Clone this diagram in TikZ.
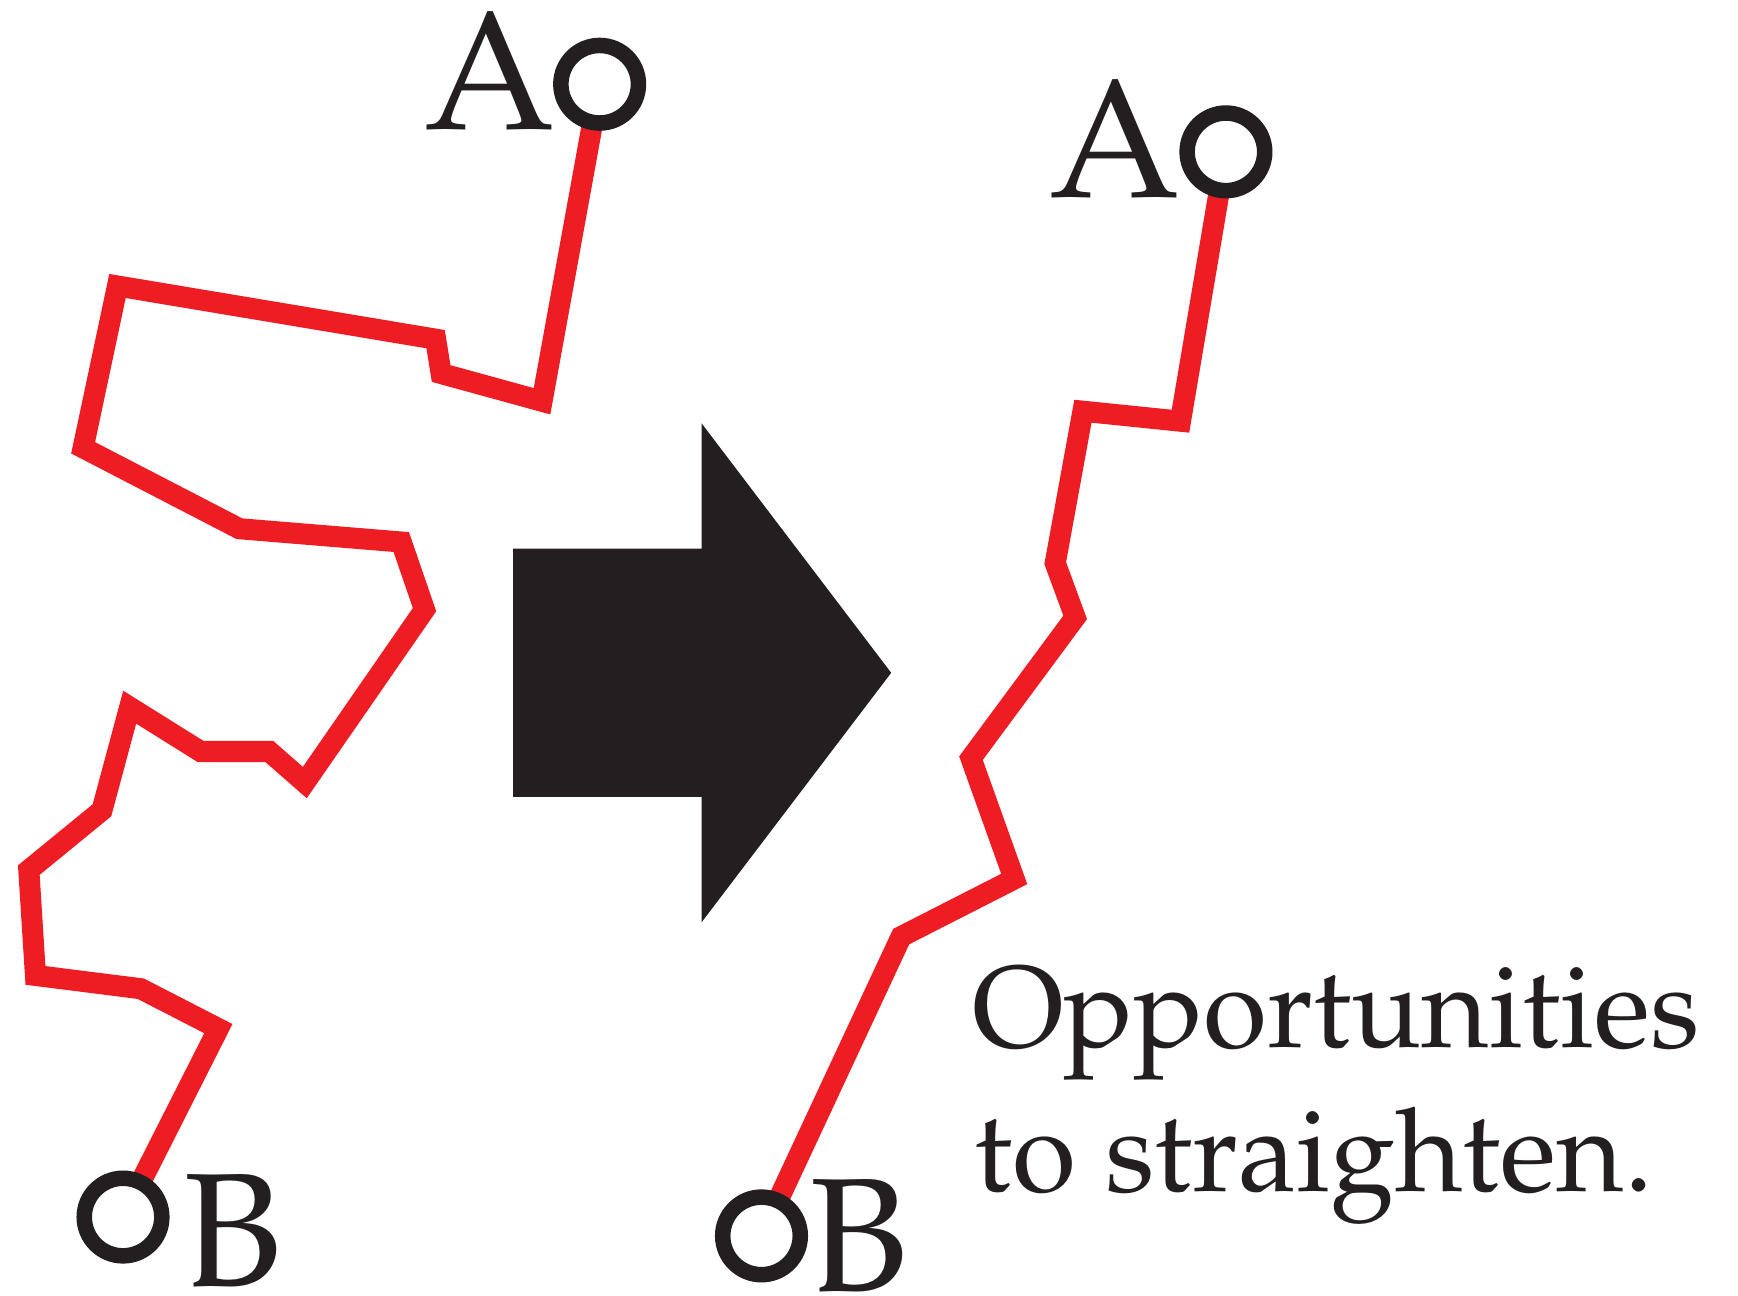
\documentclass[tikz,border=0pt]{standalone}
\usepackage[T1]{fontenc}
\usepackage{mathpazo}
\definecolor{pathred}{HTML}{EE1D24}
\definecolor{inkblack}{HTML}{231F20}
\begin{document}
\begin{tikzpicture}[x=1pt,y=-1pt,
  redpath/.style={draw=pathred,line width=19pt,line join=miter,miter limit=20},
  ring/.style={circle,draw=inkblack,line width=14pt,fill=white,minimum size=70pt,inner sep=0pt,outer sep=0pt},
  letter/.style={anchor=base west,inner sep=0pt,text=inkblack,font=\fontsize{152}{152}\selectfont},
  bletter/.style={anchor=base west,inner sep=0pt,text=inkblack,font=\fontsize{146}{146}\selectfont},
  caption/.style={anchor=base west,inner sep=0pt,text=inkblack,font=\fontsize{105}{130}\selectfont}]
\useasboundingbox (0,0) rectangle (1568,1169);
% left path points
\coordinate (LA) at (541,76);
\coordinate (L1) at (489,362);
\coordinate (L2) at (398,337);
\coordinate (L3) at (393,306);
\coordinate (L4) at (106,258);
\coordinate (L5) at (75,404);
\coordinate (L6) at (216,477);
\coordinate (L7) at (362,489);
\coordinate (L8) at (383,550);
\coordinate (L9) at (275,706);
\coordinate (L10) at (243,678);
\coordinate (L11) at (181,678);
\coordinate (L12) at (117,638);
\coordinate (L13) at (92,731);
\coordinate (L14) at (26,785);
\coordinate (L15) at (32,880);
\coordinate (L16) at (127,892);
\coordinate (L17) at (197,928);
\coordinate (LB) at (111,1098);
% right path points
\coordinate (RA) at (1106,137);
\coordinate (R1) at (1065,380);
\coordinate (R2) at (977,371);
\coordinate (R3) at (952,508);
\coordinate (R4) at (970,557);
\coordinate (R5) at (876,684);
\coordinate (R6) at (915,793);
\coordinate (R7) at (813,845);
\coordinate (RB) at (687,1115);
% paths
\draw[redpath] (LA) -- (L1) -- (L2) -- (L3) -- (L4) -- (L5) -- (L6) -- (L7) -- (L8) -- (L9) -- (L10) -- (L11) -- (L12) -- (L13) -- (L14) -- (L15) -- (L16) -- (L17) -- (LB);
\draw[redpath] (RA) -- (R1) -- (R2) -- (R3) -- (R4) -- (R5) -- (R6) -- (R7) -- (RB);
% end rings
\node[ring] (ringLA) at (LA) {};
\node[ring] (ringLB) at (LB) {};
\node[ring] (ringRA) at (RA) {};
\node[ring] (ringRB) at (RB) {};
% arrow
\fill[inkblack] (463,495) -- (633,495) -- (633,382) -- (804,607) -- (633,832) -- (633,719) -- (463,719) -- cycle;
% labels
\node[letter] (labLA) at (383,117) {A};
\node[letter] (labRA) at (947,178) {A};
\node[bletter] (labLB) at (165,1161) {B};
\node[bletter] (labRB) at (730,1165) {B};
\node[caption] (cap1) at (877,945) {Opportunities};
\node[caption] (cap2) at (879,1075) {to straighten.};
\end{tikzpicture}
\end{document}
